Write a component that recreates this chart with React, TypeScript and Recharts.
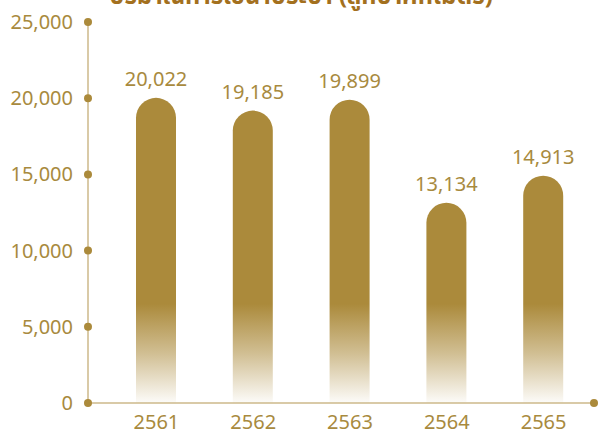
import { BarChart, Bar, XAxis, YAxis, LabelList } from 'recharts'

const years = ['2561', '2562', '2563', '2564', '2565']
const volumes = [20022, 19185, 19899, 13134, 14913]
const yTicks = [0, 5000, 10000, 15000, 20000, 25000]

const gold = '#AB8A3B'
const axisGold = '#CDB98A'
const textGold = '#A88A3E'
const font = '"Noto Sans", "Noto Sans Thai", sans-serif'

const chartData = years.map((year, i) => ({ year, value: volumes[i] }))

function YTick({ x, y, payload }: any) {
  return (
    <g>
      <circle cx={x} cy={y} r={4} fill={gold} />
      <text x={x - 15} y={y} dy={7} textAnchor="end" fill={textGold} fontSize={20} fontFamily={font}>
        {Number(payload.value).toLocaleString('en-US')}
      </text>
    </g>
  )
}

function XTick({ x, y, payload }: any) {
  return (
    <text x={x} y={y} dy={26} textAnchor="middle" fill={textGold} fontSize={20} fontFamily={font}>
      {payload.value}
    </text>
  )
}

export default function App() {
  return (
    <div style={{ position: 'absolute', left: 0, top: 0, width: 598, height: 434, background: '#fff' }}>
      <BarChart width={598} height={434} data={chartData} margin={{ top: 22, right: 4, bottom: 1, left: 0 }}>
        <defs>
          <linearGradient id="barFade" gradientUnits="userSpaceOnUse" x1="0" y1="22" x2="0" y2="403">
            <stop offset="0.74" stopColor={gold} stopOpacity={1} />
            <stop offset="0.87" stopColor={gold} stopOpacity={0.55} />
            <stop offset="1" stopColor={gold} stopOpacity={0.03} />
          </linearGradient>
        </defs>
        <XAxis
          dataKey="year"
          height={30}
          padding={{ left: 20, right: 2 }}
          axisLine={{ stroke: axisGold, strokeWidth: 1.5 }}
          tickLine={false}
          tickSize={0}
          tickMargin={0}
          tick={<XTick />}
        />
        <YAxis
          width={88}
          domain={[0, 25000]}
          ticks={yTicks}
          interval={0}
          axisLine={{ stroke: axisGold, strokeWidth: 1.5 }}
          tickLine={false}
          tickSize={0}
          tickMargin={0}
          tick={<YTick />}
        />
        <Bar dataKey="value" barSize={40} fill="url(#barFade)" radius={[20, 20, 0, 0]} isAnimationActive={false}>
          <LabelList
            dataKey="value"
            position="top"
            offset={12}
            fill={textGold}
            fontSize={20}
            fontFamily={font}
            formatter={(v: any) => Number(v).toLocaleString('en-US')}
          />
        </Bar>
      </BarChart>
      <svg width={598} height={434} style={{ position: 'absolute', left: 0, top: 0, pointerEvents: 'none' }}>
        <text x={301} y={4} textAnchor="middle" fill="#A3701E" fontSize={24} fontWeight="bold" fontFamily={font}>
          ปริมาณการใช้น้ำประปา (ลูกบาศก์เมตร)
        </text>
        <circle cx={594} cy={403} r={4} fill={gold} />
      </svg>
    </div>
  )
}
